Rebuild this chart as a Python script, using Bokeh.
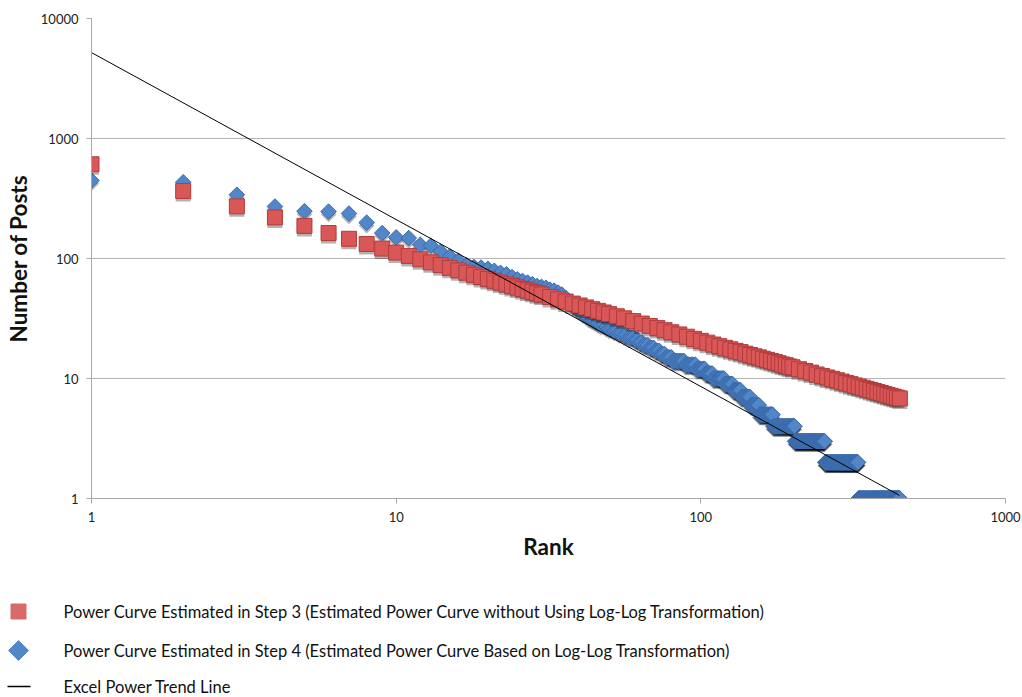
import math
from bokeh.plotting import figure
from bokeh.models import Range1d, FixedTicker, NumeralTickFormatter
from bokeh.core.properties import value
from bokeh.embed import file_html
from bokeh.resources import INLINE

# ---------------- data ----------------
# Step 3 power curve (red squares): rank -> number of posts
red_rank = (list(range(1, 31)) + list(range(32, 51, 2))
            + [53, 56, 60, 64, 68, 72, 76, 80, 85, 90, 95, 100]
            + list(range(105, 201, 5)) + list(range(210, 451, 10)))
red_value = [610, 365, 272, 220, 187, 163, 146, 132, 121, 112,
             105, 98.5, 92.9, 88.0, 83.6, 79.7, 76.2, 73.1, 70.2, 67.6,
             65.2, 63.0, 61.0, 59.1, 57.4, 55.7, 54.2, 52.8, 51.4, 50.1,
             47.8, 45.7, 43.8, 42.1, 40.6, 39.1, 37.8, 36.6, 35.5, 34.4,
             33.0, 31.7, 30.1, 28.7, 27.4, 26.3, 25.3, 24.3, 23.3, 22.3, 21.4, 20.6,
             19.9, 19.2, 18.6, 18.0, 17.5, 17.0, 16.6, 16.1, 15.7, 15.3,
             15.0, 14.6, 14.3, 14.0, 13.7, 13.4, 13.1, 12.9, 12.6, 12.4,
             11.95, 11.55, 11.2, 10.8, 10.5, 10.2, 9.93, 9.67, 9.42, 9.19,
             8.97, 8.76, 8.57, 8.38, 8.20, 8.03, 7.87, 7.72, 7.57, 7.43,
             7.30, 7.17, 7.05, 6.93, 6.82]

# Step 4 power curve (blue diamonds): first ranks one by one ...
blue_head = [447, 432, 340, 271, 248, 246, 237, 199, 163, 150,
             148, 130, 128, 114, 104, 96, 88, 85, 84, 82,
             79, 76, 74, 70, 67, 65, 63, 61, 59, 58,
             57, 55, 54, 52, 50, 47, 44, 41, 39, 37,
             35, 34, 32, 31, 30, 29, 28, 28, 27]
# ... then runs of equal counts (value, number of consecutive ranks)
blue_run_value = [26, 25, 24, 23, 22, 21, 20, 19, 18, 17, 16, 15, 14, 13, 12,
                  11, 10, 9, 8, 7, 6, 5, 4, 3, 2, 1]
blue_run_length = [2, 2, 2, 2, 3, 2, 2, 3, 3, 3, 3, 4, 8, 8, 7,
                   6, 10, 8, 8, 10, 10, 17, 31, 52, 73, 122]

# Excel power trend line, end points
trend_rank = [1, 449]
trend_value = [5200, 1.06]

x_ticks = [1, 10, 100, 1000]
y_ticks = [1, 10, 100, 1000, 10000]

legend_labels = [
    "Power Curve Estimated in Step 3 (Estimated Power Curve without Using Log-Log Transformation)",
    "Power Curve Estimated in Step 4 (Estimated Power Curve Based on Log-Log Transformation)",
    "Excel Power Trend Line",
]

# expand blue series
blue_value = list(blue_head)
for v, n in zip(blue_run_value, blue_run_length):
    blue_value += [v] * n
blue_rank = list(range(1, len(blue_value) + 1))

FONT = "Lato"
RED_FILL, RED_LINE = "#d95757", "#b23c3c"
BLUE_FILL, BLUE_LINE = "#5187c9", "#3a6aab"
SHADOW_DROP = 10 ** (-3 / 120)   # drop shadow ~3px below each marker (style only)

# ---------------- main chart ----------------
p = figure(width=1022, height=572, x_axis_type="log", y_axis_type="log",
           x_range=Range1d(1, 1000), y_range=Range1d(1, 10000),
           output_backend="svg", toolbar_location=None,
           min_border_left=91, min_border_right=17, min_border_top=18,
           min_border_bottom=74)
p.outline_line_color = None
p.background_fill_color = "white"

xt = FixedTicker(ticks=x_ticks, minor_ticks=[])
yt = FixedTicker(ticks=y_ticks, minor_ticks=[])
p.xaxis.ticker = xt
p.yaxis.ticker = yt
p.xgrid.grid_line_color = None
p.ygrid.ticker = yt
p.ygrid.grid_line_color = "#b4b4b4"
p.ygrid.grid_line_width = 1

for ax in (p.xaxis[0], p.yaxis[0]):
    ax.formatter = NumeralTickFormatter(format="0")
    ax.axis_line_color = "#a8a8a8"
    ax.major_tick_line_color = "#a8a8a8"
    ax.major_tick_out = 5
    ax.major_tick_in = 0
    ax.minor_tick_out = 0
    ax.minor_tick_in = 0
    ax.major_label_text_font = FONT
    ax.major_label_text_font_size = "13px"
    ax.major_label_text_color = "#222222"
    ax.major_label_standoff = 8
    ax.axis_label_text_font = FONT
    ax.axis_label_text_font_size = "22.5px"
    ax.axis_label_text_font_style = "bold"
    ax.axis_label_text_color = "#111111"

p.xaxis.axis_label = "Rank"
p.xaxis.axis_label_standoff = 8
p.yaxis.axis_label = "Number of Posts"
p.yaxis.axis_label_standoff = 6

# soft drop shadows (Excel style)
p.scatter(blue_rank, [v * SHADOW_DROP for v in blue_value], marker="square",
          angle=math.pi / 4, size=11, fill_color="black", fill_alpha=0.3, line_color=None)
p.scatter(blue_rank, blue_value, marker="square", angle=math.pi / 4, size=11,
          fill_color=BLUE_FILL, line_color=BLUE_LINE, line_width=1)
p.scatter(red_rank, [v * SHADOW_DROP for v in red_value], marker="square", size=15,
          fill_color="black", fill_alpha=0.3, line_color=None)
p.scatter(red_rank, red_value, marker="square", size=15,
          fill_color=RED_FILL, line_color=RED_LINE, line_width=1)
p.line(trend_rank, trend_value, line_color="black", line_width=1)

# ---------------- legend panel (separate root below the chart) ----------------
LG_H = 125
lg = figure(width=1022, height=LG_H, x_range=Range1d(0, 1022), y_range=Range1d(LG_H, 0),
            output_backend="svg", toolbar_location=None,
            x_axis_location=None, y_axis_location=None,
            min_border=0, min_border_left=0, min_border_right=0,
            min_border_top=0, min_border_bottom=0)
lg.outline_line_color = None
lg.grid.visible = False
row_y = [39, 78, 114]
lg.scatter([18], [row_y[0]], marker="square", size=15,
           fill_color="#d96a6a", line_color="#d96a6a")
lg.scatter([18], [row_y[1]], marker="square", angle=math.pi / 4, size=14,
           fill_color=BLUE_FILL, line_color=BLUE_FILL)
lg.line([7, 30], [row_y[2], row_y[2]], line_color="black", line_width=1.5)
lg.text([63, 63, 63], row_y, text=legend_labels, text_font=value(FONT),
        text_font_size="16.5px", text_baseline="middle", text_color="#111111")

open("out.html", "w").write(file_html([p, lg], INLINE))
